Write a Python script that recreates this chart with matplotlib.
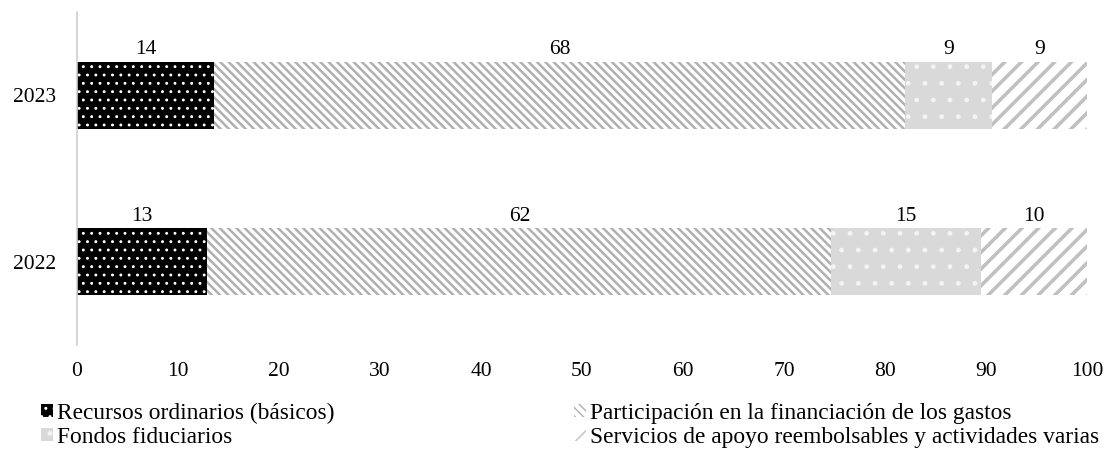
import matplotlib
matplotlib.use("Agg")
import matplotlib.pyplot as plt
import numpy as np

# ---------------------------------------------------------------------------
# Data (percent of total, per year)
# ---------------------------------------------------------------------------
years = ["2022", "2023"]
categories = [
    "Recursos ordinarios (básicos)",
    "Participación en la financiación de los gastos",
    "Fondos fiduciarios",
    "Servicios de apoyo reembolsables y actividades varias",
]
recursos = [12.9, 13.6]
participacion = [61.8, 68.4]
fondos = [14.8, 8.6]
servicios = [10.5, 9.4]
series = [recursos, participacion, fondos, servicios]

# style per series: face colour, hatch, hatch colour, hatch linewidth
styles = [
    ("#000000", "..", "#ffffff", 0.9),
    ("#ffffff", "\\\\\\\\", "#b0b0b0", 1.8),
    ("#d9d9d9", ".", "#f4f4f4", 1.0),
    ("#ffffff", "//", "#c0c0c0", 2.6),
]

plt.rcParams["font.family"] = ["Liberation Serif", "DejaVu Serif"]
FS = 15.5
LEG_FS = 16.8

fig = plt.figure(figsize=(11.19, 4.62), dpi=100)
ax = fig.add_axes([0.0688, 0.2532, 0.9026, 0.7208])

y = np.arange(len(years))
bar_h = 0.4
left = np.zeros(len(years))
handles = []
for vals, (face, hatch, hcol, hlw) in zip(series, styles):
    with plt.rc_context({"hatch.linewidth": hlw, "hatch.color": hcol}):
        bars = ax.barh(y, vals, left=left, height=bar_h, color=face,
                       hatch=hatch, edgecolor=hcol, linewidth=0)
    handles.append(bars)
    for yi, v, l in zip(y, vals, left):
        ax.text(l + v / 2, yi + bar_h / 2 + 0.045, f"{round(v):d}",
                ha="center", va="baseline", fontsize=FS)
    left = left + np.asarray(vals)

ax.set_xlim(0, 100)
ax.set_ylim(-0.5, 1.5)
ax.set_xticks(np.arange(0, 101, 10))
ax.set_yticks(y)
ax.set_yticklabels(years)
ax.tick_params(axis="both", length=0, labelsize=FS)
ax.tick_params(axis="x", pad=12)
ax.tick_params(axis="y", pad=15)
for side in ["top", "right", "bottom"]:
    ax.spines[side].set_visible(False)
ax.spines["left"].set_color("#d0d0d0")
ax.spines["left"].set_linewidth(1.2)

order = [0, 2, 1, 3]
fig.legend([handles[i] for i in order], [categories[i] for i in order],
           ncol=2, loc="upper left", bbox_to_anchor=(0.0366, 0.128),
           borderaxespad=0, borderpad=0, frameon=False, fontsize=LEG_FS,
           handlelength=0.5, handleheight=0.5, handletextpad=0.2,
           columnspacing=10.25, labelspacing=0.12)

fig.savefig("out.png", dpi=100)
